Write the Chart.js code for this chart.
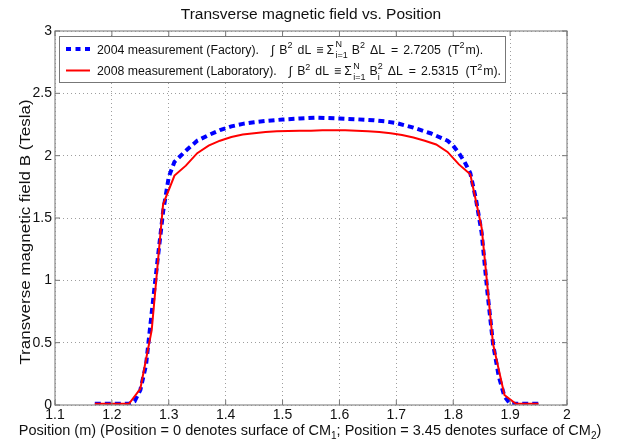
<!DOCTYPE html>
<html><head><meta charset="utf-8">
<script src="https://cdn.jsdelivr.net/npm/chart.js@4/dist/chart.umd.min.js"></script>
<style>html,body{margin:0;padding:0;background:#fff}#wrap{width:622px;height:443px;position:relative}</style>
</head><body><div id="wrap"><canvas id="c" width="622" height="443"></canvas></div>
<script>
const xTicks=[1.1,1.2,1.3,1.4,1.5,1.6,1.7,1.8,1.9,2];
const yTicks=[0,0.5,1,1.5,2,2.5,3];
// 2004 measurement (Factory)
const xBlue=[1.17,1.23,1.24,1.25,1.26,1.27,1.28,1.29,1.30,1.31,1.33,1.35,1.37,1.39,1.41,1.43,1.45,1.47,1.50,1.53,1.56,1.60,1.63,1.66,1.68,1.70,1.73,1.76,1.79,1.80,1.81,1.82,1.83,1.84,1.85,1.86,1.87,1.88,1.89,1.90,1.955];
const bBlue=[0.01,0.01,0.03,0.12,0.32,0.74,1.15,1.55,1.83,1.95,2.04,2.12,2.165,2.205,2.235,2.255,2.268,2.278,2.29,2.298,2.305,2.298,2.292,2.284,2.275,2.262,2.225,2.18,2.12,2.08,2.02,1.95,1.86,1.65,1.38,0.91,0.49,0.23,0.07,0.01,0.01];
// 2008 measurement (Laboratory)
const xRed=[1.17,1.19,1.21,1.23,1.25,1.27,1.29,1.31,1.33,1.35,1.37,1.39,1.41,1.43,1.45,1.47,1.49,1.51,1.53,1.55,1.57,1.59,1.61,1.63,1.65,1.67,1.69,1.71,1.73,1.75,1.77,1.79,1.81,1.83,1.85,1.87,1.89,1.91,1.93,1.95];
const bRed=[0.01,0.01,0.01,0.01,0.13,0.60,1.61,1.84,1.92,2.02,2.08,2.12,2.15,2.17,2.18,2.19,2.195,2.197,2.2,2.2,2.203,2.204,2.203,2.2,2.196,2.19,2.18,2.165,2.145,2.12,2.09,2.03,1.93,1.85,1.42,0.49,0.08,0.01,0.01,0.01];
const seriesNames=['2004 measurement (Factory).','2008 measurement (Laboratory).'];
const integralValues=['2.7205','2.5315'];
const chartTitle='Transverse magnetic field vs. Position';
const yTitle='Transverse magnetic field B (Tesla)';
const xTitleParts=[{t:'Position (m) (Position = 0 denotes surface of CM'},{sub:'1'},{t:'; Position = 3.45 denotes surface of CM'},{sub:'2'},{t:')'}];

const FONT='"Liberation Sans", Arial, Helvetica, sans-serif';
const TXT='#111';

function pts(xs,ys){return xs.map((x,i)=>({x:x,y:ys[i]}));}

function partWidth(ctx,p,fs){
  if(p.g!==undefined)return p.g;
  if(p.t!==undefined){ctx.font=fs+'px '+FONT;return ctx.measureText(p.t).width;}
  const sfs=Math.round(fs*0.72);ctx.font=sfs+'px '+FONT;
  const a=p.sup?ctx.measureText(p.sup).width:0,b=p.sub?ctx.measureText(p.sub).width:0;
  return Math.max(a,b);
}
function richWidth(ctx,parts,fs){let w=0;for(const p of parts)w+=partWidth(ctx,p,fs);return w;}
function drawRich(ctx,x,y,parts,fs){
  ctx.textBaseline='alphabetic';ctx.textAlign='left';ctx.fillStyle=TXT;
  for(const p of parts){
    const w=partWidth(ctx,p,fs);
    if(p.t!==undefined){ctx.font=fs+'px '+FONT;ctx.fillText(p.t,x,y);}
    else if(p.g===undefined){
      const sfs=Math.round(fs*0.72);ctx.font=sfs+'px '+FONT;
      if(p.sup)ctx.fillText(p.sup,x,y-fs*(p.sub?0.5:0.42));
      if(p.sub)ctx.fillText(p.sub,x,y+fs*(p.sup?0.38:0.3));
    }
    x+=w;
  }
}

function legendParts(i,sub){
  return [{t:seriesNames[i]},{g:12},{t:'\u222B'},{g:5},{t:'B'},{sup:'2'},{g:5},{t:'dL'},{g:5},{t:'\u2261'},{g:3},{t:'\u03A3'},{g:1.5},{sup:'N',sub:'i=1'},{g:4},{t:'B'},sub?{sup:'2',sub:'i'}:{sup:'2'},{g:5},{t:'\u0394L'},{g:6},{t:'='},{g:5},{t:integralValues[i]},{g:7},{t:'(T'},{sup:'2'},{g:1},{t:'m).'}];
}
const legendLines=[legendParts(0,false),legendParts(1,true)];

const decor={
  id:'decor',
  beforeDraw(chart){const c=chart.ctx;c.save();c.fillStyle='#fff';c.fillRect(0,0,chart.width,chart.height);c.restore();},
  afterDatasetsDraw(chart){
    const c=chart.ctx,a=chart.chartArea,xs=chart.scales.x,ys=chart.scales.y;
    c.save();
    c.strokeStyle='#8a8a8a';c.lineWidth=1.2;c.strokeRect(a.left,a.top,a.right-a.left,a.bottom-a.top);
    c.strokeStyle='#777';c.lineWidth=1;c.beginPath();
    for(const t of xs.ticks){const px=xs.getPixelForValue(t.value);c.moveTo(px,a.bottom);c.lineTo(px,a.bottom-5);c.moveTo(px,a.top);c.lineTo(px,a.top+5);}
    for(const t of ys.ticks){const py=ys.getPixelForValue(t.value);c.moveTo(a.left,py);c.lineTo(a.left+5,py);c.moveTo(a.right,py);c.lineTo(a.right-5,py);}
    c.stroke();
    c.fillStyle=TXT;c.font='15.5px '+FONT;c.textAlign='center';c.textBaseline='middle';
    c.fillText(chartTitle,(a.left+a.right)/2,15);
    c.save();c.translate(26,232);c.rotate(-Math.PI/2);c.scale(1.17,1);c.font='14.5px '+FONT;c.fillText(yTitle,0,0);c.restore();
    const fs=14.5;const w=richWidth(c,xTitleParts,fs);drawRich(c,310-w/2,435,xTitleParts,fs);
    const L=59,T=36,R=505,B=82;
    c.fillStyle='#fff';c.fillRect(L,T,R-L,B-T);
    c.strokeStyle='#777';c.lineWidth=1;c.strokeRect(L+0.5,T+0.5,R-L,B-T);
    const ds=chart.data.datasets;
    const ly=[49,70.5];
    for(let i=0;i<2;i++){
      c.beginPath();c.strokeStyle=ds[i].borderColor;c.lineWidth=i===0?4:2;
      c.setLineDash(i===0?[5,4.5]:[]);c.moveTo(66,ly[i]);c.lineTo(90,ly[i]);c.stroke();c.setLineDash([]);
      drawRich(c,97,ly[i]+4.5,legendLines[i],12.3);
    }
    c.restore();
  }
};

new Chart(document.getElementById('c'),{
  type:'scatter',
  data:{datasets:[
    {label:seriesNames[0],data:pts(xBlue,bBlue),showLine:true,borderColor:'#0000ff',backgroundColor:'#0000ff',borderWidth:4,borderDash:[6,4],borderCapStyle:'butt',pointRadius:0,tension:0,order:2},
    {label:seriesNames[1],data:pts(xRed,bRed),showLine:true,borderColor:'#ff0000',backgroundColor:'#ff0000',borderWidth:2,pointRadius:0,tension:0,order:1}
  ]},
  options:{
    responsive:false,animation:false,devicePixelRatio:1,
    layout:{padding:{left:0,top:31,right:55,bottom:0}},
    plugins:{legend:{display:false},tooltip:{enabled:false},title:{display:false}},
    scales:{
      x:{type:'linear',min:1.1,max:2,
        afterBuildTicks:s=>{s.ticks=xTicks.map(v=>({value:v}));},
        afterFit:s=>{s.height=38;},
        ticks:{autoSkip:false,maxRotation:0,padding:2,color:TXT,font:{family:FONT,size:14},callback:v=>String(Math.round(v*10)/10)},
        grid:{color:'rgba(0,0,0,0.38)',lineWidth:1,drawTicks:false},
        border:{display:false,dash:[1,3]}},
      y:{type:'linear',min:0,max:3,
        afterBuildTicks:s=>{s.ticks=yTicks.map(v=>({value:v}));},
        afterFit:s=>{s.width=55;},
        ticks:{autoSkip:false,padding:3,color:TXT,font:{family:FONT,size:14},callback:v=>String(Math.round(v*10)/10)},
        grid:{color:'rgba(0,0,0,0.38)',lineWidth:1,drawTicks:false},
        border:{display:false,dash:[1,3]}}
    }
  },
  plugins:[decor]
});
</script></body></html>
